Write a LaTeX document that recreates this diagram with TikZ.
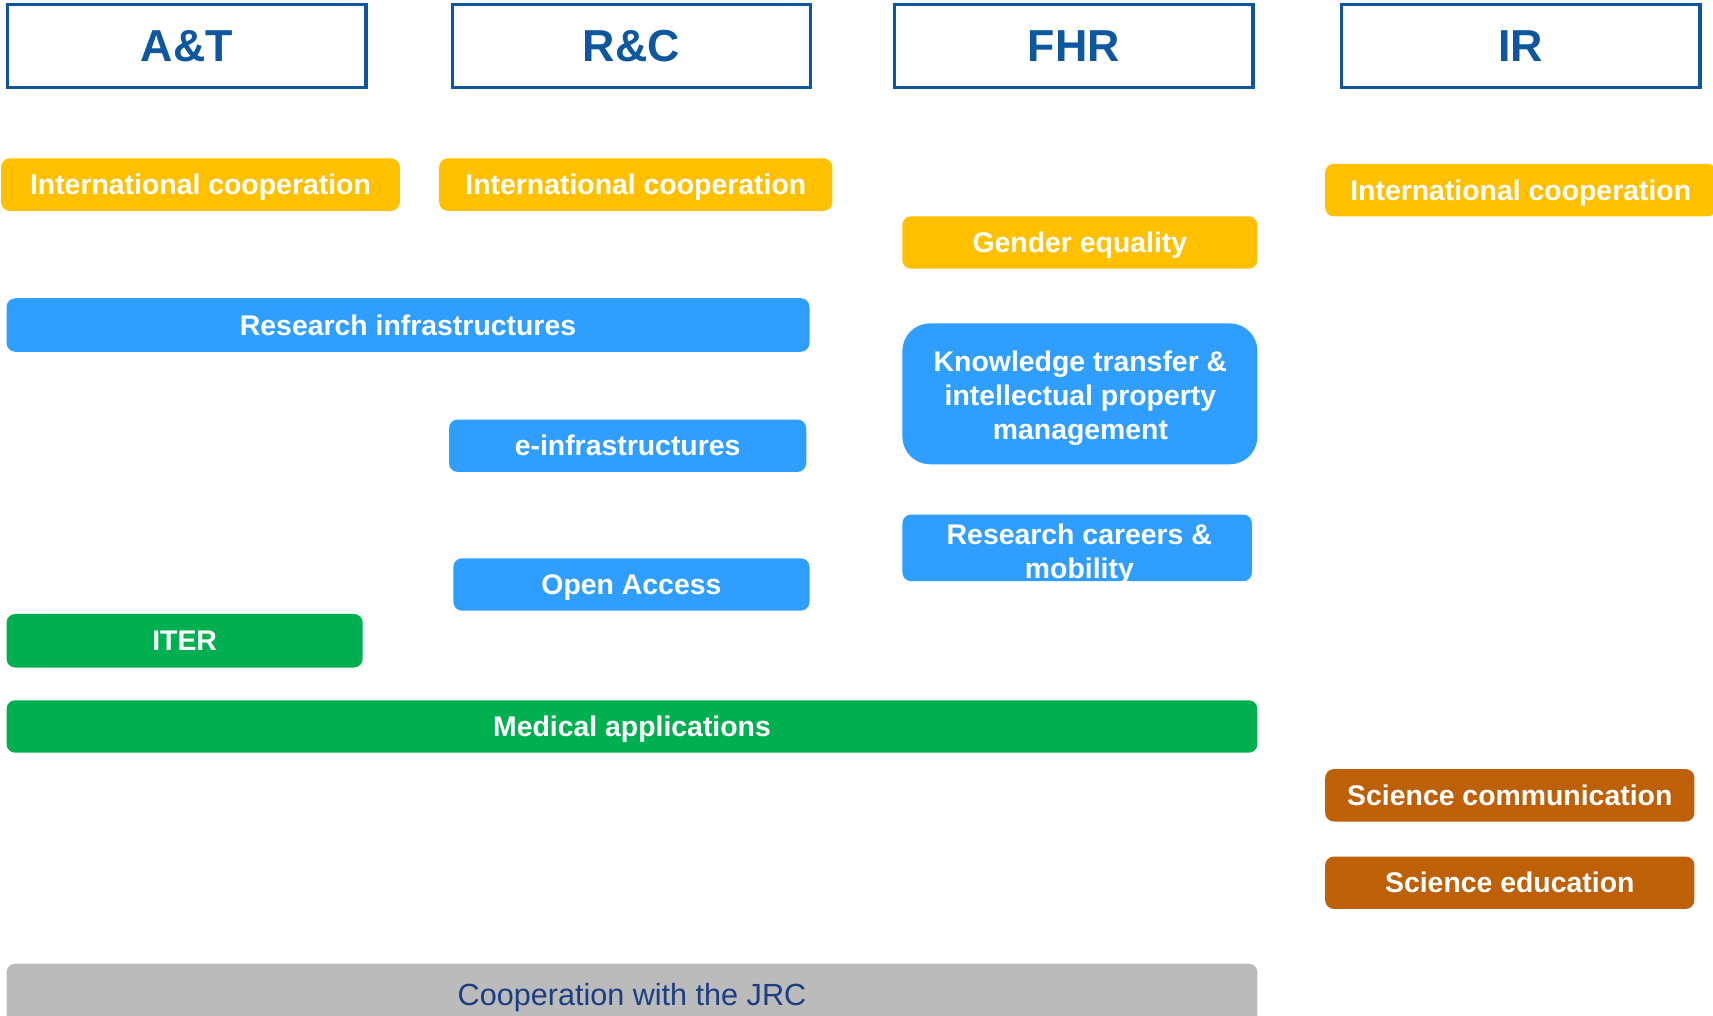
\documentclass[tikz,border=0pt]{standalone}
\usepackage{fontspec}
\setmainfont{Liberation Sans}
\newdimen\pxu \pxu=0.75pt
\definecolor{hdrblue}{HTML}{0D579F}
\definecolor{ybox}{HTML}{FFC000}
\definecolor{bbox}{HTML}{309EFF}
\definecolor{gbox}{HTML}{00B050}
\definecolor{obox}{HTML}{BD6008}
\definecolor{graybox}{HTML}{BBBBBB}
\definecolor{jrctext}{HTML}{1B3E82}
\tikzset{
  hdr/.style={draw=hdrblue, line width=2.25pt, fill=white, text=hdrblue,
    font=\fontsize{30.75pt}{36pt}\selectfont\bfseries,
    minimum width=328*\pxu, minimum height=76*\pxu, inner sep=0pt},
  tagbase/.style={rounded corners=6pt, text=white, align=center, inner sep=0pt,
    font=\fontsize{19.5pt}{23.6pt}\selectfont\bfseries},
  tag/.style={tagbase, text height=14pt, text depth=0pt},
  yel/.style={tag, fill=ybox},
  blu/.style={tag, fill=bbox},
  grn/.style={tag, fill=gbox},
  org/.style={tag, fill=obox},
  multi/.style={text=white, align=center, inner sep=0pt,
    font=\fontsize{19.5pt}{23.6pt}\selectfont\bfseries},
}
\begin{document}
\begin{tikzpicture}[x=0.75pt, y=-0.75pt]
\clip (0,0) rectangle (1568,930);
\fill[white] (0,0) rectangle (1568,930);
% headers
\node[hdr] (at) at (171,42) {A\&T};
\node[hdr] (rc) at (578,42) {R\&C};
\node[hdr] (fhr) at (983,42) {FHR};
\node[hdr] (ir) at (1392,42) {IR};
% yellow
\node[yel, minimum width=365*\pxu, minimum height=48*\pxu] (ic1) at (183.5,169) {International cooperation};
\node[yel, minimum width=360*\pxu, minimum height=48*\pxu] (ic2) at (582,169) {International cooperation};
\node[yel, minimum width=325*\pxu, minimum height=48*\pxu] (ge) at (988.5,222) {Gender equality};
\node[yel, minimum width=358*\pxu, minimum height=48*\pxu] (ic3) at (1392,174) {International cooperation};
% blue
\node[blu, minimum width=735*\pxu, minimum height=49*\pxu] (ri) at (373.5,297.5) {Research infrastructures};
\node[blu, minimum width=327*\pxu, minimum height=48*\pxu] (ei) at (574.5,408) {e-infrastructures};
\node[tagbase, fill=bbox, rounded corners=19pt, minimum width=325*\pxu, minimum height=129*\pxu] (kt) at (988.5,360.5) {};
\node[multi] (ktt) at (989,364.5) {Knowledge transfer \&\\ intellectual property\\ management};
\node[blu, minimum width=326*\pxu, minimum height=48*\pxu] (oa) at (578,535) {Open Access};
\node[tagbase, fill=bbox, minimum width=320*\pxu, minimum height=61*\pxu] (rcm) at (986,501.5) {};
\node[multi] (rcmt) at (988,507) {Research careers \&\\ mobility};
% green
\node[grn, minimum width=326*\pxu, minimum height=49*\pxu] (iter) at (169,586.5) {ITER};
\node[grn, minimum width=1145*\pxu, minimum height=48*\pxu] (med) at (578.5,665) {Medical applications};
% orange
\node[org, minimum width=338*\pxu, minimum height=48*\pxu] (sc) at (1382,728) {Science communication};
\node[org, minimum width=338*\pxu, minimum height=48*\pxu] (se) at (1382,808) {Science education};
% gray
\node[tagbase, fill=graybox, text=jrctext, font=\fontsize{21pt}{25pt}\selectfont, text height=15pt, text depth=0pt, minimum width=1145*\pxu, minimum height=56*\pxu] (jrc) at (578.5,910) {Cooperation with the JRC};
\end{tikzpicture}
\end{document}
